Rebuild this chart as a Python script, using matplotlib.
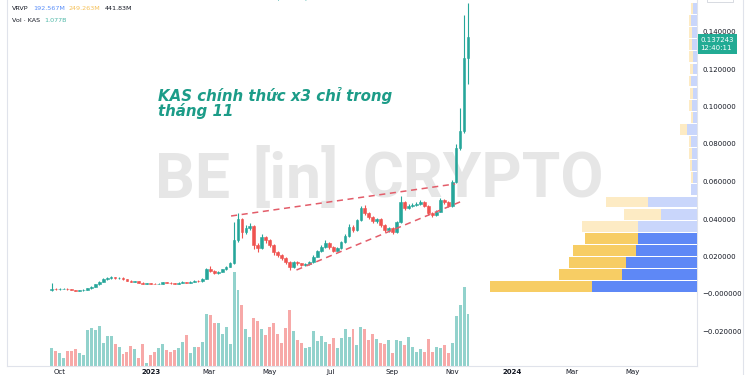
import numpy as np
import pandas as pd
import matplotlib
matplotlib.use("Agg")
import matplotlib.pyplot as plt
import matplotlib.dates as mdates
from matplotlib.lines import Line2D

# KAS / USDT, 4-day candles (Sep 2022 - Nov 2023)
start_date = "2022-09-23"
opens = [0.0020, 0.0028, 0.0026, 0.0027, 0.0028, 0.0025, 0.0022, 0.0018, 0.0019, 0.0022,
         0.0031, 0.0040, 0.0052, 0.0066, 0.0078, 0.0085, 0.0090, 0.0084, 0.0087, 0.0078,
         0.0071, 0.0065, 0.0067, 0.0060, 0.0056, 0.0058, 0.0055, 0.0053, 0.0056, 0.0062,
         0.0060, 0.0057, 0.0055, 0.0059, 0.0064, 0.0061, 0.0066, 0.0071, 0.0068, 0.0082,
         0.0133, 0.0122, 0.0110, 0.0118, 0.0132, 0.0146, 0.0165, 0.0290, 0.0400, 0.0330,
         0.0350, 0.0362, 0.0260, 0.0243, 0.0304, 0.0290, 0.0260, 0.0224, 0.0210, 0.0190,
         0.0170, 0.0144, 0.0170, 0.0163, 0.0155, 0.0160, 0.0172, 0.0200, 0.0230, 0.0250,
         0.0270, 0.0250, 0.0232, 0.0245, 0.0275, 0.0310, 0.0360, 0.0340, 0.0395, 0.0460,
         0.0430, 0.0410, 0.0390, 0.0400, 0.0370, 0.0340, 0.0350, 0.0330, 0.0385, 0.0490,
         0.0460, 0.0470, 0.0476, 0.0482, 0.0490, 0.0470, 0.0432, 0.0420, 0.0440, 0.0500,
         0.0490, 0.0470, 0.0597, 0.0780, 0.0870, 0.1260]
closes = [0.0028, 0.0026, 0.0027, 0.0028, 0.0025, 0.0022, 0.0018, 0.0019, 0.0022, 0.0031,
          0.0040, 0.0052, 0.0066, 0.0078, 0.0085, 0.0090, 0.0084, 0.0087, 0.0078, 0.0071,
          0.0065, 0.0067, 0.0060, 0.0056, 0.0058, 0.0055, 0.0053, 0.0056, 0.0062, 0.0060,
          0.0057, 0.0055, 0.0059, 0.0064, 0.0061, 0.0066, 0.0071, 0.0068, 0.0082, 0.0133,
          0.0122, 0.0110, 0.0118, 0.0132, 0.0146, 0.0165, 0.0290, 0.0400, 0.0330, 0.0350,
          0.0362, 0.0260, 0.0243, 0.0304, 0.0290, 0.0260, 0.0224, 0.0210, 0.0190, 0.0170,
          0.0144, 0.0170, 0.0163, 0.0155, 0.0160, 0.0172, 0.0200, 0.0230, 0.0250, 0.0270,
          0.0250, 0.0232, 0.0245, 0.0275, 0.0310, 0.0360, 0.0340, 0.0395, 0.0460, 0.0430,
          0.0410, 0.0390, 0.0400, 0.0370, 0.0340, 0.0350, 0.0330, 0.0385, 0.0490, 0.0460,
          0.0470, 0.0476, 0.0482, 0.0490, 0.0470, 0.0432, 0.0420, 0.0440, 0.0500, 0.0490,
          0.0470, 0.0597, 0.0780, 0.0870, 0.1260, 0.1372]
highs = [0.0058, 0.0031, 0.0030, 0.0031, 0.0030, 0.0027, 0.0024, 0.0022, 0.0025, 0.0034,
         0.0043, 0.0056, 0.0070, 0.0084, 0.0092, 0.0096, 0.0093, 0.0091, 0.0089, 0.0080,
         0.0073, 0.0070, 0.0069, 0.0062, 0.0061, 0.0060, 0.0057, 0.0059, 0.0065, 0.0064,
         0.0062, 0.0059, 0.0062, 0.0067, 0.0066, 0.0069, 0.0074, 0.0073, 0.0086, 0.0140,
         0.0152, 0.0126, 0.0122, 0.0136, 0.0150, 0.0170, 0.0385, 0.0432, 0.0405, 0.0370,
         0.0378, 0.0368, 0.0272, 0.0318, 0.0312, 0.0296, 0.0266, 0.0232, 0.0215, 0.0195,
         0.0175, 0.0178, 0.0176, 0.0168, 0.0166, 0.0178, 0.0206, 0.0236, 0.0262, 0.0290,
         0.0275, 0.0256, 0.0252, 0.0282, 0.0318, 0.0372, 0.0368, 0.0402, 0.0470, 0.0475,
         0.0436, 0.0415, 0.0408, 0.0405, 0.0375, 0.0358, 0.0355, 0.0392, 0.0525, 0.0495,
         0.0480, 0.0485, 0.0490, 0.0500, 0.0495, 0.0476, 0.0440, 0.0448, 0.0510, 0.0508,
         0.0496, 0.0610, 0.0800, 0.0990, 0.1490, 0.1550]
lows = [0.0018, 0.0024, 0.0024, 0.0025, 0.0023, 0.0020, 0.0016, 0.0016, 0.0017, 0.0021,
        0.0029, 0.0038, 0.0050, 0.0063, 0.0075, 0.0082, 0.0080, 0.0081, 0.0075, 0.0068,
        0.0062, 0.0062, 0.0058, 0.0054, 0.0054, 0.0053, 0.0051, 0.0051, 0.0055, 0.0058,
        0.0055, 0.0053, 0.0054, 0.0057, 0.0059, 0.0060, 0.0064, 0.0065, 0.0066, 0.0080,
        0.0118, 0.0106, 0.0106, 0.0115, 0.0128, 0.0143, 0.0162, 0.0280, 0.0300, 0.0320,
        0.0340, 0.0240, 0.0225, 0.0238, 0.0270, 0.0250, 0.0210, 0.0200, 0.0180, 0.0160,
        0.0128, 0.0140, 0.0155, 0.0150, 0.0150, 0.0155, 0.0168, 0.0196, 0.0225, 0.0245,
        0.0240, 0.0225, 0.0228, 0.0240, 0.0270, 0.0305, 0.0330, 0.0335, 0.0390, 0.0420,
        0.0400, 0.0378, 0.0380, 0.0360, 0.0330, 0.0332, 0.0322, 0.0326, 0.0380, 0.0450,
        0.0452, 0.0462, 0.0468, 0.0475, 0.0462, 0.0420, 0.0412, 0.0415, 0.0436, 0.0480,
        0.0462, 0.0465, 0.0590, 0.0770, 0.0860, 0.1120]
# volume in millions
volumes = [373, 311, 269, 166, 311, 311, 352, 269, 228, 745, 787, 745, 828, 476, 621, 621,
           455, 393, 248, 290, 414, 352, 166, 455, 62, 228, 290, 373, 455, 331, 290, 331,
           373, 497, 642, 269, 393, 393, 497, 1077, 1056, 890, 890, 662, 807, 455, 1946,
           1573, 1263, 766, 600, 994, 932,
           766, 642, 807, 890, 662, 476, 787, 1159, 725, 538, 476, 373, 393, 725, 518, 621,
           497, 455, 580, 373, 580, 766, 600, 766, 435, 807, 766, 538, 662, 559, 476, 455,
           538, 269, 538, 518, 435, 600, 393, 290, 352, 290, 559, 290, 393, 373, 435, 269,
           476, 1035, 1263, 1635, 1077]

# visible range volume profile (24 rows, bottom to top)
vp_bottom = 0.0007
vp_step = 0.00645
vp_up = [104, 74, 70, 60, 58, 58, 36, 49, 6, 4, 5, 5, 6, 10, 4, 5, 4, 6, 4, 4, 5, 5, 6, 4]
vp_down = [101, 63, 57, 63, 53, 56, 36, 41, 0, 2, 2, 3, 2, 7, 2, 3, 3, 2, 3, 4, 3, 3, 2, 2]
value_area_rows = 5

# rising wedge drawn on the chart
wedge_upper_dates = ["2023-03-23", "2023-11-04"]
wedge_upper_prices = [0.0416, 0.0587]
wedge_lower_dates = ["2023-05-28", "2023-11-09"]
wedge_lower_prices = [0.0128, 0.0491]

price_ticks = [-0.02, 0.0, 0.02, 0.04, 0.06, 0.08, 0.10, 0.12, 0.14]
price_tick_labels = ["\u22120.020000", "\u22120.000000", "0.020000", "0.040000", "0.060000",
                     "0.080000", "0.100000", "0.120000", "0.140000"]
month_ticks = ["2022-10-01", "2023-01-01", "2023-03-01", "2023-05-01", "2023-07-01",
               "2023-09-01", "2023-11-01", "2024-01-01", "2024-03-01", "2024-05-01"]
month_labels = ["Oct", "2023", "Mar", "May", "Jul", "Sep", "Nov", "2024", "Mar", "May"]
last_price = 0.137243

up_col = "#26a69a"
down_col = "#ef5350"
vol_up_col = "#92d2cc"
vol_down_col = "#f7a9a8"

dates = pd.date_range(start_date, periods=len(closes), freq="4D")
x = mdates.date2num(dates)
o = np.array(opens)
c = np.array(closes)
is_up = c >= o

fig = plt.figure(figsize=(7.5, 3.75), dpi=100)
rect = [7 / 750, 9 / 375, 690 / 750, 366 / 375]
ax = fig.add_axes(rect)
axv = ax.twinx()
axv.set_zorder(0)
ax.set_zorder(1)
ax.patch.set_visible(False)

# volume (overlay at the bottom)
axv.bar(x, volumes, width=3.0, color=np.where(is_up, vol_up_col, vol_down_col), linewidth=0)
axv.set_ylim(0, 7576)
axv.axis("off")

# watermark
wm = dict(color="#e6e6e6", fontweight="bold", family="Roboto", fontsize=45,
          va="baseline", ha="left", transform=fig.transFigure, zorder=0)
axv.text(155 / 750, 1 - 198 / 375, "BE", **wm)
axv.text(252 / 750, 1 - 198 / 375, "[in]", **wm)
axv.text(362 / 750, 1 - 198 / 375, "CRYPTO", **wm)

# candles
ax.vlines(x, lows, highs, colors=np.where(is_up, up_col, down_col), linewidth=0.8)
ax.bar(x, np.abs(c - o), bottom=np.minimum(o, c), width=2.8,
       color=np.where(is_up, up_col, down_col), edgecolor=np.where(is_up, up_col, down_col),
       linewidth=0.4)

# wedge lines
for d, p in [(wedge_upper_dates, wedge_upper_prices), (wedge_lower_dates, wedge_lower_prices)]:
    ax.plot(mdates.date2num(pd.to_datetime(d)), p, color="#e35d6a", linewidth=1.1,
            linestyle=(0, (4, 3)))

ax.set_xlim(mdates.date2num(pd.Timestamp("2022-08-09")), mdates.date2num(pd.Timestamp("2024-07-05")))
ax.set_ylim(-0.0384, 0.1568)

# volume profile
axp = ax.twiny()
axp.set_zorder(2)
axp.patch.set_visible(False)
totals = np.array(vp_up) + np.array(vp_down)
centers = vp_bottom + vp_step * (np.arange(len(vp_up)) + 0.5)
blue = ["#5e88f6" if i < value_area_rows else "#c9d6fb" for i in range(len(vp_up))]
yellow = ["#f7cd64" if i < value_area_rows else "#fdebc4" for i in range(len(vp_up))]
axp.barh(centers, vp_up, height=vp_step * 0.9, left=0, color=blue, linewidth=0)
axp.barh(centers, vp_down, height=vp_step * 0.9, left=vp_up, color=yellow, linewidth=0)
axp.set_xlim(totals.max() / 0.30, 0)
axp.axis("off")
ax.set_ylim(-0.0384, 0.1568)

# axes styling
for s in ["left", "bottom", "right"]:
    ax.spines[s].set_color("#e0e3eb")
    ax.spines[s].set_linewidth(0.8)
ax.spines["top"].set_visible(False)
ax.yaxis.tick_right()
ax.set_yticks(price_ticks)
ax.set_yticklabels(price_tick_labels)
ax.tick_params(axis="y", length=0, pad=4, labelsize=5, labelcolor="#131722")
ax.set_xticks(mdates.date2num(pd.to_datetime(month_ticks)))
ax.set_xticklabels(month_labels)
ax.tick_params(axis="x", length=0, pad=2, labelsize=5, labelcolor="#131722")
for lab in ax.get_xticklabels():
    if lab.get_text() in ("2023", "2024"):
        lab.set_fontweight("bold")

# last price tag
ax.text(1.005, last_price - 0.0040, "0.137243\n12:40:11", transform=ax.get_yaxis_transform(),
        ha="left", va="center", fontsize=5, color="white", linespacing=1.4, clip_on=False,
        bbox=dict(boxstyle="square,pad=0.4", fc="#22ab94", ec="none"), zorder=5)

# annotation
ax.text(158 / 690 - 7 / 690, 1 - 87 / 366, "KAS chính thức x3 chỉ trong\ntháng 11",
        transform=ax.transAxes, ha="left", va="top", fontsize=10.8, style="italic",
        fontweight="semibold", color="#1c9c88", linespacing=0.95)


# header legend: each piece placed just right of the previous one
def legend_row(y, parts):
    prev = fig.text(12 / 750, y, parts[0][0], fontsize=4.6, color=parts[0][1],
                    va="center", ha="left")
    for txt, col in parts[1:]:
        prev = fig.add_artist(matplotlib.text.Annotation(
            txt, xy=(1, 0.5), xycoords=prev, xytext=(3, 0), textcoords="offset points",
            fontsize=4.6, color=col, va="center", ha="left"))


legend_row(1.004, [("KASUSDT · 4D · BYBIT", "#131722"),
                   ("O0.126026  H0.155000  L0.112000  C0.137243  +0.011217 (+8.90%)", "#26a69a")])
legend_row(1 - 8 / 375, [("VRVP", "#131722"), ("192.567M", "#5b8ff9"),
                         ("249.263M", "#f5c15a"), ("441.83M", "#131722")])
legend_row(1 - 20 / 375, [("Vol · KAS", "#131722"), ("1.077B", "#4fb8a8")])

fig.text(720 / 750, 1.012, "USDT", fontsize=5, color="#131722", va="center", ha="center",
         bbox=dict(boxstyle="square,pad=0.5", fc="white", ec="#d1d4dc", lw=0.6))
fig.add_artist(Line2D([743 / 750, 743 / 750], [0, 1], transform=fig.transFigure,
                      color="#e0e3eb", linewidth=0.8))

fig.savefig("out.png", dpi=100)
